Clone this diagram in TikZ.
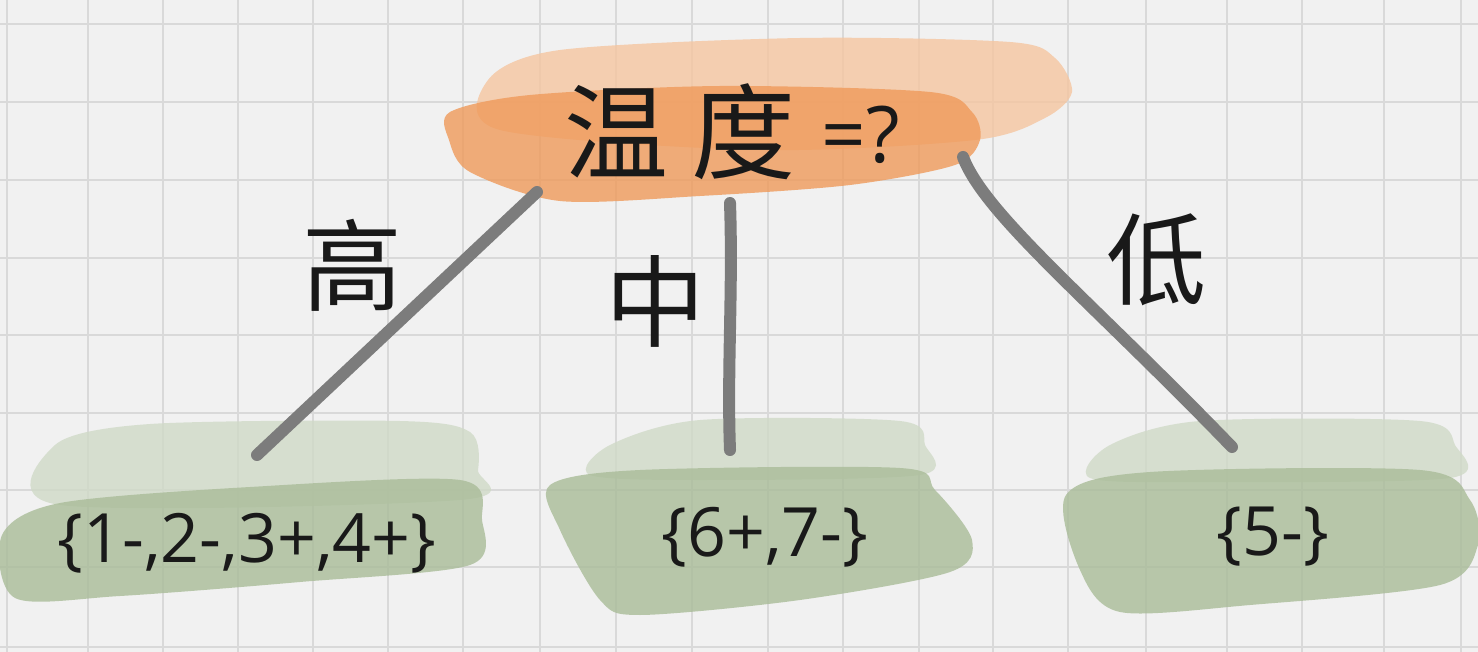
\documentclass[tikz,border=0pt]{standalone}
\usepackage{fontspec}
\setmainfont{Open Sans}
\newfontfamily\cjk{Noto Sans CJK SC}
\usetikzlibrary{positioning}

\definecolor{paper}{HTML}{F1F1F1}
\definecolor{gridgray}{HTML}{D9D9D9}
\definecolor{brushdark}{HTML}{EF9A5A}
\definecolor{brushlight}{HTML}{F5C6A0}
\definecolor{leafdark}{HTML}{A9BC98}
\definecolor{leaflight}{HTML}{D0DAC7}
\definecolor{branchgray}{HTML}{7C7C7C}

\tikzset{
  gridline/.style={color=gridgray,line width=1pt},
  branch/.style={color=branchgray,line width=6pt},
  wash/.style={fill opacity=0.8,draw=none},
  setlabel/.style={font=\fontsize{34}{34}\selectfont,text=black!90},
  edgelabel/.style={font=\cjk\fontsize{50}{50}\selectfont,text=black!90}
}

\begin{document}
\begin{tikzpicture}[line cap=round,line join=round,x=0.5pt,y=-0.5pt]
\fill[paper] (0,0) rectangle (1478,652);
\useasboundingbox (0,0) rectangle (1478,652);
%\draw grid
\foreach \gx in {7,88,163,238,313,388,463,540,616,692,768,843,919,993,1068,1146,1227,1302,1384,1461}
  \draw[gridline] (\gx,0) -- (\gx,652);
\foreach \gy in {24,102,180,258,335,413,490,567,647}
  \draw[gridline] (0,\gy) -- (1478,\gy);

% brush strokes
\fill[brushlight,wash] plot[smooth cycle,tension=0.5] coordinates {(488,80) (560,50) (800,38) (1010,42) (1055,58) (1072,92) (1045,118) (975,140) (760,150) (500,130)};
\fill[brushdark,wash] plot[smooth cycle,tension=0.5] coordinates {(450,112) (530,95) (720,86) (930,92) (972,112) (980,140) (955,165) (850,185) (700,196) (560,201) (470,172) (449,140)};

\fill[leaflight,wash] plot[smooth cycle,tension=0.5] coordinates {(55,445) (150,424) (400,421) (470,432) (478,470) (460,500) (60,505)};
\fill[leafdark,wash] plot[smooth cycle,tension=0.5] coordinates {(2,535) (60,503) (250,487) (460,480) (482,520) (470,565) (300,582) (120,596) (15,598)};

\fill[leaflight,wash] plot[smooth cycle,tension=0.5] coordinates {(610,445) (700,420) (900,421) (925,445) (920,475) (700,480) (590,475)};
\fill[leafdark,wash] plot[smooth cycle,tension=0.5] coordinates {(550,485) (640,470) (900,468) (935,490) (972,540) (950,572) (800,600) (640,615) (600,600) (560,530)};

\fill[leaflight,wash] plot[smooth cycle,tension=0.5] coordinates {(1110,445) (1200,421) (1420,421) (1455,445) (1450,478) (1200,482) (1090,478)};
\fill[leafdark,wash] plot[smooth cycle,tension=0.5] coordinates {(1066,495) (1150,472) (1420,470) (1470,500) (1478,545) (1440,585) (1250,605) (1120,612) (1080,570)};

% nodes
\node[font=\cjk\fontsize{52}{52}\selectfont,text=black!90] (root) at (680,132) {温\hspace{12pt}度};
\node[anchor=base,font=\fontsize{39}{39}\selectfont,text=black!90] (ask) at (861,163) {=?};

\node[setlabel] (high) at (247,543) {\{1-,2-,3+,4+\}};
\node[setlabel] (medium) at (765,537) {\{6+,7-\}};
\node[setlabel] (low) at (1273,537) {\{5-\}};

\coordinate (highTop) at (537,192);
\coordinate (highEnd) at (257,455);
\coordinate (mediumTop) at (730,203);
\coordinate (mediumEnd) at (730,450);
\coordinate (lowTop) at (963,157);
\coordinate (lowEnd) at (1232,447);

% branches
\draw[branch] (highTop) -- (highEnd);
\draw[branch] (mediumTop) .. controls (733,290) and (727,370) .. (mediumEnd);
\draw[branch] (lowTop) .. controls (985,215) and (1090,300) .. (lowEnd);

\node[edgelabel] (highLabel) at (352,265) {高};
\node[edgelabel] (mediumLabel) at (655,301) {中};
\node[edgelabel] (lowLabel) at (1156,260) {低};
\end{tikzpicture}
\end{document}
